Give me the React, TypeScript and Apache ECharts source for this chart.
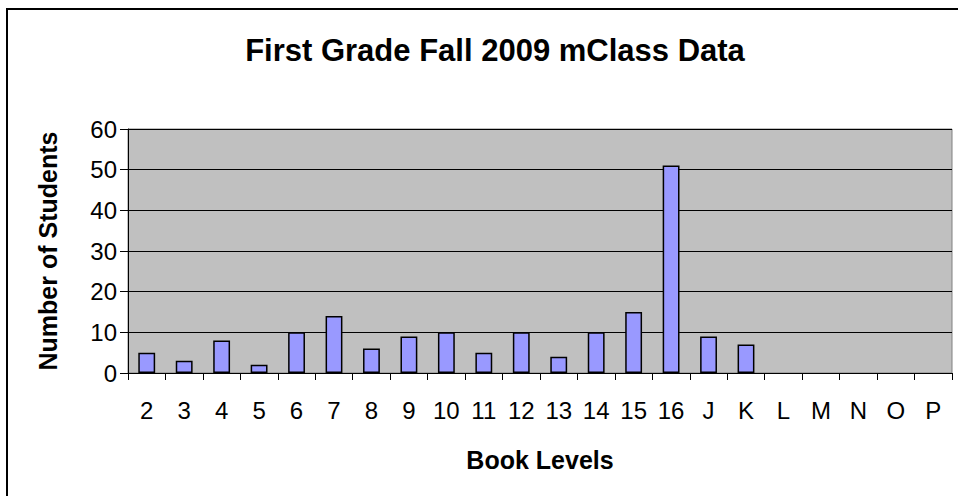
import React, { useEffect, useRef } from "react";
import * as echarts from "echarts";

const bookLevels = ["2", "3", "4", "5", "6", "7", "8", "9", "10", "11", "12", "13", "14", "15", "16", "J", "K", "L", "M", "N", "O", "P"];
const students = [5, 3, 8, 2, 10, 14, 6, 9, 10, 5, 10, 4, 10, 15, 51, 9, 7, 0, 0, 0, 0, 0];
const yTicks = { min: 0, max: 60, interval: 10 };
const chartTitle = "First Grade Fall 2009 mClass Data";
const xTitle = "Book Levels";
const yTitle = "Number of Students";

const FONT = "'Liberation Sans', Arial, sans-serif";

export default function App() {
  const ref = useRef<HTMLDivElement>(null);
  useEffect(() => {
    if (!ref.current) return;
    const chart = echarts.init(ref.current, null, { renderer: "svg" });
    chart.setOption({
      animation: false,
      backgroundColor: "#ffffff",
      title: {
        text: chartTitle,
        left: 490,
        top: 30,
        textAlign: "center",
        textStyle: { fontFamily: FONT, fontSize: 31, fontWeight: "bold", color: "#000" },
      },
      graphic: [
        {
          type: "rect",
          shape: { x: 7, y: 9, width: 1000, height: 600 },
          style: { fill: "none", stroke: "#000", lineWidth: 2 },
          silent: true,
        },
      ],
      grid: {
        left: 128,
        top: 129,
        right: 6,
        bottom: 123,
        show: true,
        backgroundColor: "#C0C0C0",
        borderColor: "#808080",
        borderWidth: 1,
      },
      xAxis: {
        type: "category",
        data: bookLevels,
        name: xTitle,
        nameLocation: "middle",
        nameGap: 74,
        nameTextStyle: { fontFamily: FONT, fontSize: 25, fontWeight: "bold", color: "#000" },
        axisLine: { show: true, lineStyle: { color: "#000", width: 1 } },
        axisTick: { show: true, alignWithLabel: false, length: 7, lineStyle: { color: "#000" } },
        axisLabel: { fontFamily: FONT, fontSize: 24, color: "#000", margin: 25, interval: 0 },
        splitLine: { show: false },
      },
      yAxis: {
        type: "value",
        min: yTicks.min,
        max: yTicks.max,
        interval: yTicks.interval,
        name: yTitle,
        nameLocation: "middle",
        nameGap: 68,
        nameTextStyle: { fontFamily: FONT, fontSize: 25, fontWeight: "bold", color: "#000" },
        axisLine: { show: true, lineStyle: { color: "#000", width: 1 } },
        axisTick: { show: true, length: 8, lineStyle: { color: "#000" } },
        axisLabel: { fontFamily: FONT, fontSize: 24, color: "#000", margin: 11 },
        splitLine: { show: true, lineStyle: { color: "#000", width: 1 } },
      },
      series: [
        {
          type: "bar",
          data: students.map((v) => (v === 0 ? { value: v, itemStyle: { borderWidth: 0 } } : v)),
          barWidth: "45%",
          itemStyle: { color: "#9999FF", borderColor: "#000", borderWidth: 1.5 },
        },
      ],
    });
    return () => chart.dispose();
  }, []);
  return (
    <div
      ref={ref}
      style={{ position: "absolute", left: 0, top: 0, width: 958, height: 496 }}
    />
  );
}
